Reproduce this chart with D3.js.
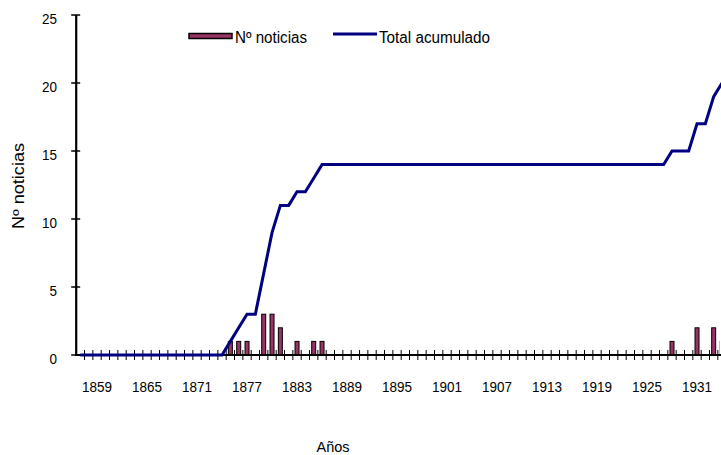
<!DOCTYPE html>
<html>
<head>
<meta charset="utf-8">
<script src="https://cdn.jsdelivr.net/npm/d3@7"></script>
<style>
  html, body { margin: 0; padding: 0; background: #fff; }
  svg { display: block; font-family: "Liberation Sans", Arial, sans-serif; }
</style>
</head>
<body>
<svg id="chart" width="721" height="455"></svg>
<script>
// Categories: years
const years = [1857,1858,1859,1860,1861,1862,1863,1864,1865,1866,1867,1868,1869,1870,1871,1872,1873,1874,
  1875,1876,1877,1878,1879,1880,1881,1882,1883,1884,1885,1886,
  1887,1888,1889,1890,1891,1892,1893,1894,1895,1896,1897,1898,1899,1900,1901,1902,1903,1904,1905,1906,
  1907,1908,1909,1910,1911,1912,1913,1914,1915,1916,1917,1918,1919,1920,1921,1922,1923,1924,1925,1926,1927,
  1928,1929,1930,1931,1932,1933,1934];

// Series 1: Nº noticias (bars)
const noticias = [0,0,0,0,0,0,0,0,0,0,0,0,0,0,0,0,0,0,
  1,1,1,0,3,3,2,0,1,0,1,1,
  0,0,0,0,0,0,0,0,0,0,0,0,0,0,0,0,0,0,0,0,
  0,0,0,0,0,0,0,0,0,0,0,0,0,0,0,0,0,0,0,0,0,
  1,0,0,2,0,2,1];

// Series 2: Total acumulado (line)
const acumulado = [0,0,0,0,0,0,0,0,0,0,0,0,0,0,0,0,0,0,
  1,2,3,3,6,9,11,11,12,12,13,14,
  14,14,14,14,14,14,14,14,14,14,14,14,14,14,14,14,14,14,14,14,
  14,14,14,14,14,14,14,14,14,14,14,14,14,14,14,14,14,14,14,14,14,
  15,15,15,17,17,19,20];

const xTickLabels = [1859,1865,1871,1877,1883,1889,1895,1901,1907,1913,1919,1925,1931];
const yTicks = [0,5,10,15,20,25];

const seriesNames = ["Nº noticias", "Total acumulado"];
const barColor = "#993366";
const lineColor = "#000080";

const svg = d3.select("#chart");
const left = 76.2, step = 8.333;
const x = d3.scaleBand()
  .domain(years)
  .range([left, left + step * years.length])
  .paddingInner(0).paddingOuter(0);
const y = d3.scaleLinear().domain([0, 25]).range([355, 15]);

svg.append("defs").append("clipPath").attr("id", "plotclip")
  .append("rect").attr("x", 0).attr("y", 0).attr("width", 719.5).attr("height", 455);

// Bars
const barW = 4;
svg.append("g").attr("clip-path", "url(#plotclip)").selectAll("rect")
  .data(years.map((yr, i) => ({yr, v: noticias[i]})).filter(d => d.v > 0))
  .join("rect")
  .attr("x", d => x(d.yr) + x.bandwidth() / 2 - barW / 2)
  .attr("y", d => y(d.v))
  .attr("width", barW)
  .attr("height", d => y(0) - y(d.v))
  .attr("fill", barColor)
  .attr("stroke", "#000")
  .attr("stroke-width", 1);

// X axis (ticks at category boundaries, crossing)
const xAxisG = svg.append("g");
xAxisG.append("line")
  .attr("x1", left).attr("x2", 721 + 10)
  .attr("y1", y(0)).attr("y2", y(0))
  .attr("stroke", "#000").attr("stroke-width", 2.2);
xAxisG.selectAll("line.tick")
  .data(years)
  .join("line")
  .attr("class", "tick")
  .attr("x1", d => x(d) + x.bandwidth()).attr("x2", d => x(d) + x.bandwidth())
  .attr("y1", y(0) - 5).attr("y2", y(0) + 5)
  .attr("stroke", "#000").attr("stroke-width", 1);
xAxisG.selectAll("text")
  .data(xTickLabels)
  .join("text")
  .attr("x", d => x(d) + x.bandwidth() / 2)
  .attr("y", 392)
  .attr("text-anchor", "middle")
  .attr("font-size", 14)
  .attr("textLength", 30)
  .attr("lengthAdjust", "spacingAndGlyphs")
  .attr("fill", "#000")
  .text(d => d);

// Y axis
const yAxisG = svg.append("g");
yAxisG.append("line")
  .attr("x1", left).attr("x2", left)
  .attr("y1", y(25)).attr("y2", y(0) + 1)
  .attr("stroke", "#000").attr("stroke-width", 2.2);
yAxisG.selectAll("line.tick")
  .data(yTicks)
  .join("line")
  .attr("class", "tick")
  .attr("x1", left - 5).attr("x2", left + 4)
  .attr("y1", d => y(d)).attr("y2", d => y(d))
  .attr("stroke", "#000").attr("stroke-width", 1.5);
yAxisG.selectAll("text")
  .data(yTicks)
  .join("text")
  .attr("x", 57)
  .attr("y", d => y(d) + 8.5)
  .attr("text-anchor", "end")
  .attr("font-size", 15)
  .attr("textLength", d => String(d).length * 7.5)
  .attr("lengthAdjust", "spacingAndGlyphs")
  .attr("fill", "#000")
  .text(d => d);

// Line
const line = d3.line()
  .x((d, i) => x(years[i]) + x.bandwidth() / 2)
  .y(d => y(d));
svg.append("path")
  .datum(acumulado)
  .attr("d", line)
  .attr("fill", "none")
  .attr("stroke", lineColor)
  .attr("stroke-width", 3)
  .attr("stroke-linejoin", "miter");

// Axis titles
svg.append("text")
  .attr("transform", "translate(24,186) rotate(-90)")
  .attr("text-anchor", "middle")
  .attr("font-size", 16)
  .attr("textLength", 86)
  .attr("lengthAdjust", "spacingAndGlyphs")
  .attr("fill", "#000")
  .text("Nº noticias");
svg.append("text")
  .attr("x", 333).attr("y", 452)
  .attr("text-anchor", "middle")
  .attr("font-size", 15)
  .attr("textLength", 33)
  .attr("lengthAdjust", "spacingAndGlyphs")
  .attr("fill", "#000")
  .text("Años");

// Legend
const lg = svg.append("g");
lg.append("rect")
  .attr("x", 189).attr("y", 33.5).attr("width", 43).attr("height", 5)
  .attr("fill", barColor).attr("stroke", "#000").attr("stroke-width", 1.5);
lg.append("text")
  .attr("x", 235).attr("y", 43).attr("font-size", 16)
  .attr("textLength", 72).attr("lengthAdjust", "spacingAndGlyphs")
  .attr("fill", "#000")
  .text(seriesNames[0]);
lg.append("line")
  .attr("x1", 333).attr("x2", 377).attr("y1", 34).attr("y2", 34)
  .attr("stroke", lineColor).attr("stroke-width", 3);
lg.append("text")
  .attr("x", 379).attr("y", 43).attr("font-size", 16)
  .attr("textLength", 111).attr("lengthAdjust", "spacingAndGlyphs")
  .attr("fill", "#000")
  .text(seriesNames[1]);
</script>
</body>
</html>
